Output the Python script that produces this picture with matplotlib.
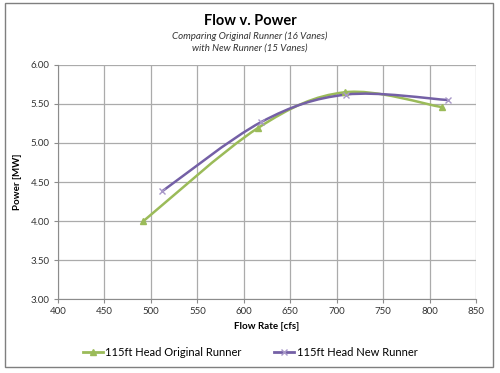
import matplotlib
matplotlib.use('Agg')
import matplotlib.pyplot as plt
from matplotlib.path import Path
from matplotlib.patches import PathPatch, Rectangle
from matplotlib.lines import Line2D

# data
orig_flow  = [492, 615, 709, 813]
orig_power = [4.00, 5.19, 5.65, 5.46]
new_flow   = [512, 619, 710, 820]
new_power  = [4.38, 5.27, 5.62, 5.55]

GREEN  = '#9BBB59'
PURPLE = '#7460A6'
FONT = 'Lato'

plt.rcParams['font.family'] = [FONT, 'DejaVu Sans']


def smooth_path(xs, ys):
    """Excel style smoothed line: cubic bezier through the points."""
    pts = list(zip(xs, ys))
    n = len(pts)
    verts = [pts[0]]
    codes = [Path.MOVETO]
    for i in range(n - 1):
        p0 = pts[i - 1] if i > 0 else pts[i]
        p1 = pts[i]
        p2 = pts[i + 1]
        p3 = pts[i + 2] if i + 2 < n else pts[i + 1]
        c1 = (p1[0] + (p2[0] - p0[0]) / 6, p1[1] + (p2[1] - p0[1]) / 6)
        c2 = (p2[0] - (p3[0] - p1[0]) / 6, p2[1] - (p3[1] - p1[1]) / 6)
        verts += [c1, c2, p2]
        codes += [Path.CURVE4] * 3
    return Path(verts, codes)


fig = plt.figure(figsize=(5.0, 3.73), dpi=100)
fig.patches.append(Rectangle((0.010, 0.017), 0.975, 0.975, transform=fig.transFigure,
                             fill=False, edgecolor='#7f7f7f', lw=1.0))

ax = fig.add_axes([0.116, 0.198, 0.836, 0.628])

ax.add_patch(PathPatch(smooth_path(orig_flow, orig_power), fill=False,
                       edgecolor=GREEN, lw=1.8, zorder=3))
ax.add_patch(PathPatch(smooth_path(new_flow, new_power), fill=False,
                       edgecolor=PURPLE, lw=1.8, zorder=4))
ax.plot(orig_flow, orig_power, ls='none', marker='^', ms=5, color=GREEN, zorder=5)
ax.plot(new_flow, new_power, ls='none', marker='x', ms=5, mew=1.0,
        color='#A898C8', zorder=6)

ax.set_xlim(400, 850)
ax.set_ylim(3.0, 6.0)
ax.set_xticks(range(400, 851, 50))
ax.set_yticks([3.0, 3.5, 4.0, 4.5, 5.0, 5.5, 6.0])
ax.set_yticklabels([f'{v:.2f}' for v in ax.get_yticks()])
ax.grid(True, color='#ababab', lw=0.9)
ax.set_axisbelow(True)
for s in ['top', 'right']:
    ax.spines[s].set_visible(False)
for s in ['left', 'bottom']:
    ax.spines[s].set_color('#8c8c8c')
ax.tick_params(direction='out', length=3, color='#8c8c8c', labelsize=7,
               labelcolor='#333333', pad=3)

ax.set_xlabel('Flow Rate [cfs]', fontsize=7, fontweight='bold', labelpad=4)
ax.set_ylabel('Power [MW]', fontsize=7, fontweight='bold', labelpad=6)

fig.text(0.5, 0.945, 'Flow v. Power', ha='center', va='center',
         fontsize=10.5, fontweight='bold')
fig.text(0.5, 0.903, 'Comparing Original Runner (16 Vanes)', ha='center',
         va='center', fontsize=7, style='italic', color='#333333')
fig.text(0.5, 0.870, 'with New Runner (15 Vanes)', ha='center',
         va='center', fontsize=7, style='italic', color='#333333')

handles = [Line2D([], [], color=GREEN, lw=2, marker='^', ms=5),
           Line2D([], [], color=PURPLE, lw=2, marker='x', ms=5, mec='#A898C8')]
fig.legend(handles, ['115ft Head Original Runner', '115ft Head New Runner'],
           loc='center', bbox_to_anchor=(0.5, 0.054), ncol=2, frameon=False,
           fontsize=8, handlelength=1.8, handletextpad=0.2, columnspacing=3.0)

fig.savefig('out.png', dpi=100)
